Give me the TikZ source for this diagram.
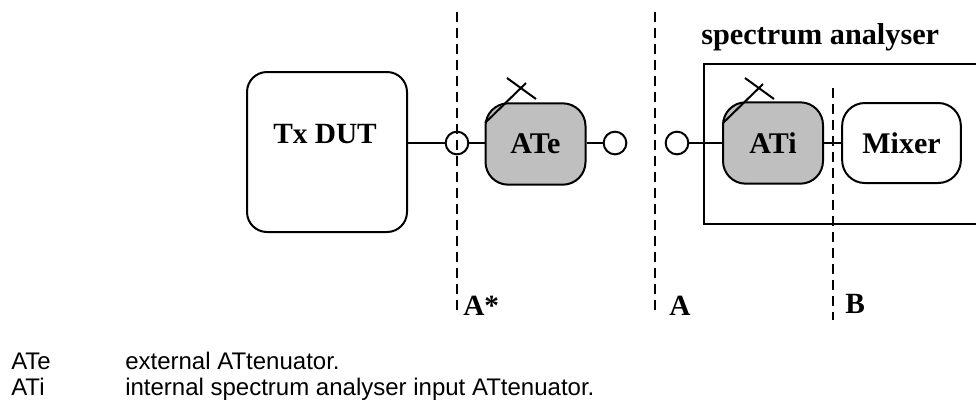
\documentclass[tikz,border=0pt]{standalone}
\usepackage{fontspec}
\setmainfont{Liberation Serif}
\newfontfamily\legendfont{Liberation Sans}
\usetikzlibrary{positioning}
\tikzset{
  block/.style={draw, line width=1.5pt, rectangle, rounded corners=17pt, inner sep=0pt, font=\fontsize{22.5}{24}\selectfont\bfseries},
  atten/.style={block, fill=black!25, minimum width=75pt, minimum height=61pt},
  port/.style={draw, line width=1.5pt, circle, minimum size=17pt, inner sep=0pt},
  cut/.style={draw, line width=1.2pt, dash pattern=on 7.5pt off 4.5pt},
  link/.style={draw, line width=1.5pt},
  tag/.style={inner sep=0pt, anchor=base west, font=\fontsize{22}{24}\selectfont\bfseries},
  legend/.style={inner sep=0pt, anchor=base west, font=\fontsize{18}{20}\selectfont\legendfont}
}
\begin{document}
\begin{tikzpicture}[x=0.75pt, y=-0.75pt]
    \useasboundingbox (0,0) rectangle (976,401);

    % Place nodes
    \node [block, rounded corners=15pt, minimum width=120pt, minimum height=120pt] (dut) at (327,152) {};
    \node [tag] (duttext) at (273,143) {Tx DUT};
    \node [atten] (ate) at (535.5,144) {ATe};
    \node [atten] (ati) at (773,143) {ATi};
    \node [block, minimum width=89pt, minimum height=60pt] (mixer) at (901.5,143) {Mixer};
    \node [port] (portin) at (457,143) {};
    \node [port] (portout) at (615,143) {};
    \node [port] (portsa) at (677,143) {};

    % Analyser case, open at the right
    \coordinate (casetr) at (976,64);
    \coordinate (casetl) at (704,64);
    \coordinate (casebl) at (704,224);
    \coordinate (casebr) at (976,224);
    \draw [link] (casetr) -- (casetl) -- (casebl) -- (casebr);
    \node [tag, font=\fontsize{22.7}{24}\selectfont\bfseries] (casetext) at (701,44) {spectrum analyser};

    % Reference planes
    \coordinate (astartop) at (457,12);
    \coordinate (astarbot) at (457,316);
    \coordinate (atop) at (655,12);
    \coordinate (abot) at (655,316);
    \coordinate (btop) at (833,88);
    \coordinate (bbot) at (833,320);
    \path [cut] (astartop) -- (astarbot);
    \path [cut] (atop) -- (abot);
    \path [cut] (btop) -- (bbot);
    \node [tag] (astartext) at (463,315) {A*};
    \node [tag] (atext) at (669,315) {A};
    \node [tag] (btext) at (845,313) {B};

    % Draw edges
    \path [link] (dut.east |- portin) -- (portin);
    \path [link] (portin) -- (ate.west |- portin);
    \path [link] (ate.east |- portout) -- (portout);
    \path [link] (portsa) -- (ati.west |- portsa);
    \path [link] (ati) -- (mixer);

    % Attenuator knobs
    \coordinate (atea) at (485,123);
    \coordinate (ateb) at (526,83);
    \coordinate (atec) at (507,78);
    \coordinate (ated) at (536,99);
    \coordinate (atia) at (723,123);
    \coordinate (atib) at (763,84);
    \coordinate (atic) at (745,78);
    \coordinate (atid) at (774,99);
    \draw [link] (atea) -- (ateb);
    \draw [link] (atec) -- (ated);
    \draw [link] (atia) -- (atib);
    \draw [link] (atic) -- (atid);

    % Legend
    \node [legend] (legate) at (11,369) {ATe};
    \node [legend] (legatetext) at (125,369) {external ATtenuator.};
    \node [legend] (legati) at (11,395.5) {ATi};
    \node [legend] (legatitext) at (125,395.5) {internal spectrum analyser input ATtenuator.};
\end{tikzpicture}
\end{document}
